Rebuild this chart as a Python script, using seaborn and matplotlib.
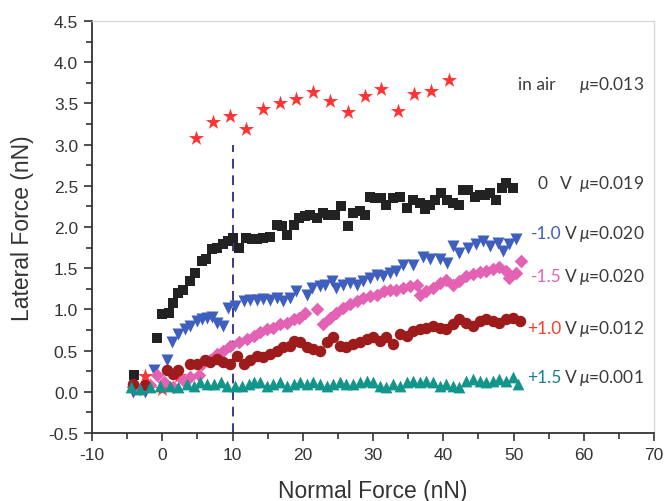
import matplotlib
matplotlib.use("Agg")
import matplotlib.pyplot as plt
import seaborn as sns
from matplotlib.ticker import MultipleLocator

# ---------------- data ----------------
air_x = [-2.45, -0.1, 2.45, 4.8, 7.2, 9.6, 11.9, 14.4, 16.8, 19.1, 21.5, 23.9, 26.4,
         28.8, 31.2, 33.6, 35.9, 38.3, 40.8]
air_y = [0.19, 0.03, 0.19, 3.08, 3.27, 3.35, 3.19, 3.43, 3.50, 3.55, 3.64, 3.53, 3.39,
         3.59, 3.67, 3.41, 3.61, 3.65, 3.79]

v0_x = [-4.0, -0.7, -0.1, 0.9, 1.6, 2.2, 3.0, 3.9, 4.7, 5.6, 6.2, 7.1, 7.8, 8.6, 9.4,
        10.1, 10.9, 11.9, 12.8, 13.5, 14.3, 15.35, 16.3, 17.0, 17.8, 18.7, 19.5, 20.3,
        21.0, 22.0, 22.9, 23.6, 24.6, 25.5, 26.5, 27.2, 28.1, 28.9, 29.6, 30.3, 31.2,
        31.9, 32.9, 33.8, 34.8, 35.7, 36.7, 37.4, 38.1, 38.8, 39.7, 40.5, 41.4, 42.2,
        42.8, 43.5, 44.5, 45.2, 45.9, 46.6, 47.5, 48.3, 49.0, 49.9]
v0_y = [0.20, 0.65, 0.94, 0.96, 1.08, 1.20, 1.23, 1.35, 1.44, 1.59, 1.61, 1.73, 1.75,
        1.79, 1.83, 1.87, 1.75, 1.87, 1.85, 1.85, 1.87, 1.875, 2.03, 2.01, 1.90, 2.03,
        2.11, 2.13, 2.14, 2.11, 2.17, 2.15, 2.15, 2.25, 2.01, 2.17, 2.19, 2.15, 2.37,
        2.35, 2.35, 2.27, 2.35, 2.37, 2.23, 2.33, 2.29, 2.22, 2.27, 2.33, 2.41, 2.33,
        2.29, 2.27, 2.45, 2.45, 2.37, 2.39, 2.39, 2.41, 2.33, 2.47, 2.53, 2.47]

m10_x = [-4.1, -2.4, -1.2, 0.7, 1.4, 2.3, 3.3, 4.0, 4.9, 5.6, 6.4, 7.1, 7.8, 8.7, 9.4,
         10.4, 11.6, 12.5, 13.5, 14.4, 15.35, 16.3, 17.2, 18.2, 19.1, 20.6, 21.3, 22.45,
         23.2, 24.1, 24.8, 25.8, 26.7, 27.7, 28.6, 29.6, 30.5, 31.45, 32.4, 33.3, 34.3,
         35.7, 37.1, 38.1, 39.5, 40.5, 41.4, 42.3, 43.5, 44.7, 45.6, 46.6, 47.8, 48.5,
         49.4, 50.4]
m10_y = [0.0, 0.0, 0.26, 0.38, 0.60, 0.70, 0.76, 0.80, 0.86, 0.88, 0.90, 0.91, 0.84,
         0.80, 1.02, 1.04, 1.10, 1.12, 1.12, 1.13, 1.12, 1.14, 1.10, 1.14, 1.22, 1.18,
         1.26, 1.28, 1.30, 1.34, 1.26, 1.30, 1.32, 1.30, 1.34, 1.38, 1.42, 1.40, 1.44,
         1.46, 1.54, 1.54, 1.63, 1.61, 1.61, 1.56, 1.77, 1.69, 1.75, 1.79, 1.83, 1.77,
         1.81, 1.71, 1.79, 1.85]

m15_x = [-4.1, -3.1, -1.7, -0.75, 0.2, 1.6, 3.0, 4.0, 5.2, 5.6, 6.8, 7.8, 8.7, 9.7,
         10.9, 12.0, 13.0, 13.9, 14.9, 15.8, 16.8, 17.7, 18.7, 19.4, 20.3, 22.0, 22.9,
         23.9, 24.8, 25.8, 26.7, 27.7, 28.6, 29.6, 30.5, 31.5, 32.4, 33.3, 34.3, 35.2,
         36.2, 36.7, 37.6, 38.6, 39.5, 40.4, 41.4, 42.3, 43.3, 44.2, 45.2, 46.1, 47.1,
         48.0, 49.0, 49.4, 50.4, 51.1]
m15_y = [0.06, 0.04, 0.08, 0.20, 0.12, 0.06, 0.14, 0.18, 0.20, 0.34, 0.38, 0.46, 0.50,
         0.56, 0.60, 0.64, 0.68, 0.72, 0.76, 0.78, 0.82, 0.84, 0.88, 0.90, 0.96, 1.00,
         0.82, 0.90, 0.96, 1.02, 1.06, 1.10, 1.14, 1.16, 1.18, 1.22, 1.24, 1.24, 1.26,
         1.28, 1.30, 1.18, 1.22, 1.26, 1.32, 1.36, 1.30, 1.34, 1.40, 1.43, 1.45, 1.47,
         1.49, 1.51, 1.47, 1.38, 1.44, 1.59]

p10_x = [-4.1, -2.4, 0.7, 1.6, 2.3, 4.0, 4.9, 6.1, 6.8, 7.8, 8.7, 9.7, 10.6, 11.6, 12.5,
         13.5, 14.4, 15.35, 16.3, 17.2, 18.2, 18.7, 19.6, 20.6, 21.5, 22.45, 23.4, 24.3,
         25.3, 26.2, 27.2, 28.1, 29.1, 30.0, 31.0, 31.9, 32.9, 33.8, 34.8, 35.7, 36.7,
         37.6, 38.6, 39.5, 40.4, 41.4, 42.3, 43.3, 44.2, 45.2, 46.1, 47.1, 48.0, 49.0,
         49.9, 50.9]
p10_y = [0.10, 0.08, 0.26, 0.22, 0.26, 0.34, 0.34, 0.38, 0.36, 0.40, 0.36, 0.34, 0.44,
         0.34, 0.38, 0.44, 0.42, 0.46, 0.50, 0.54, 0.56, 0.62, 0.60, 0.54, 0.52, 0.50,
         0.60, 0.66, 0.56, 0.54, 0.58, 0.60, 0.64, 0.66, 0.62, 0.66, 0.58, 0.70, 0.68,
         0.74, 0.76, 0.78, 0.80, 0.78, 0.76, 0.82, 0.88, 0.84, 0.80, 0.86, 0.88, 0.86,
         0.84, 0.88, 0.90, 0.86]

p15_x = [-4.5, -3.1, -1.7, -0.3, 1.1, 2.3, 3.5, 4.5, 5.4, 6.4, 7.3, 8.3, 9.2, 10.4, 11.3,
         12.3, 13.0, 13.9, 14.9, 15.8, 16.8, 17.7, 18.7, 19.6, 20.6, 21.5, 22.45, 23.4,
         24.3, 25.3, 26.2, 27.2, 28.1, 29.1, 30.0, 31.0, 31.9, 32.9, 33.8, 34.8, 35.7,
         36.7, 37.6, 38.6, 39.5, 40.4, 41.4, 42.3, 43.3, 44.2, 45.2, 46.1, 47.1, 48.0,
         49.0, 49.9, 50.6]
p15_y = [0.056, 0.036, 0.056, 0.076, 0.076, 0.056, 0.096, 0.076, 0.116, 0.096, 0.096,
         0.116, 0.076, 0.076, 0.076, 0.096, 0.116, 0.116, 0.076, 0.096, 0.116, 0.076,
         0.096, 0.116, 0.096, 0.116, 0.096, 0.076, 0.096, 0.116, 0.096, 0.096, 0.116,
         0.137, 0.116, 0.076, 0.056, 0.096, 0.076, 0.116, 0.137, 0.116, 0.137, 0.116,
         0.076, 0.096, 0.076, 0.056, 0.137, 0.157, 0.137, 0.116, 0.137, 0.157, 0.137,
         0.177, 0.096]

x_ticks = [-10, 0, 10, 20, 30, 40, 50, 60, 70]
y_ticks = [-0.5, 0.0, 0.5, 1.0, 1.5, 2.0, 2.5, 3.0, 3.5, 4.0, 4.5]

# ---------------- style ----------------
sns.set_style("ticks")
plt.rcParams['font.family'] = ['Liberation Sans', 'DejaVu Sans']
plt.rcParams['mathtext.fontset'] = 'custom'
plt.rcParams['mathtext.it'] = 'Lato:italic'
plt.rcParams['mathtext.rm'] = 'Lato'

fig = plt.figure(figsize=(6.65, 5.02), dpi=100)
ax = fig.add_axes([92 / 665, 1 - 434 / 502, 562 / 665, 412 / 502])

series = [
    (air_x, air_y, '*', '#ff3333', 130),
    (v0_x, v0_y, 's', '#222222', 50),
    (m10_x, m10_y, 'v', '#3f5fbf', 75),
    (m15_x, m15_y, 'D', '#e462b4', 48),
    (p10_x, p10_y, 'o', '#9e1b1b', 68),
    (p15_x, p15_y, '^', '#12958a', 72),
]
for xs, ys, mk, col, sz in series:
    sns.scatterplot(x=xs, y=ys, marker=mk, color=col, s=sz, linewidth=0, ax=ax,
                    zorder=3, clip_on=False)

# dashed reference line at 10 nN
ax.plot([10, 10], [-0.5, 3.0], ls=(0, (5, 3.5)), color='#3a3a8c', lw=1.4, zorder=2)

ax.set_xlim(-10, 70)
ax.set_ylim(-0.5, 4.5)
ax.set_xticks(x_ticks)
ax.set_yticks(y_ticks)
ax.set_xticklabels([str(t) for t in x_ticks])
ax.set_yticklabels([f"{t:.1f}" for t in y_ticks])
ax.xaxis.set_minor_locator(MultipleLocator(5))
ax.yaxis.set_minor_locator(MultipleLocator(0.25))
ax.tick_params(which='major', direction='out', length=6, width=1.2, colors='#333333',
               labelsize=12.5, labelcolor='#333333', pad=4)
ax.tick_params(which='minor', direction='out', length=4, width=1.2, colors='#333333')

for side in ['left', 'bottom']:
    ax.spines[side].set_color('#333333')
    ax.spines[side].set_linewidth(1.3)
for side in ['top', 'right']:
    ax.spines[side].set_visible(True)
    ax.spines[side].set_color('#d8d8d8')
    ax.spines[side].set_linewidth(1.0)

ax.set_xlabel("Normal Force (nN)", fontsize=16.5, color='#333333', labelpad=12)
ax.set_ylabel("Lateral Force (nN)", fontsize=16.5, color='#333333', labelpad=10)

# ---------------- annotations ----------------
gray = '#3a3a3a'
tf = dict(fontsize=12.5, family=['Lato', 'DejaVu Sans'], va='center')
ax.text(50.64, 3.73, "in air", color=gray, ha='left', **tf)
ax.text(59.3, 3.73, r"$\mu$=0.013", color=gray, ha='left', **tf)
ax.text(54.8, 2.54, "0", color=gray, ha='right', **tf)
ax.text(56.6, 2.54, "V", color=gray, ha='left', **tf)
ax.text(59.3, 2.54, r"$\mu$=0.019", color=gray, ha='left', **tf)

labels = [("-1.0", '#3f5fbf', 1.93, "0.020"),
          ("-1.5", '#e462b4', 1.40, "0.020"),
          ("+1.0", '#ff3a2a', 0.78, "0.012"),
          ("+1.5", '#1a7f8e', 0.18, "0.001")]
for v, col, yy, mu in labels:
    ax.text(56.8, yy, v, color=col, ha='right', **tf)
    ax.text(57.35, yy, "V", color=gray, ha='left', **tf)
    ax.text(59.3, yy, r"$\mu$=" + mu, color=gray, ha='left', **tf)

fig.savefig("out.png", dpi=100)
